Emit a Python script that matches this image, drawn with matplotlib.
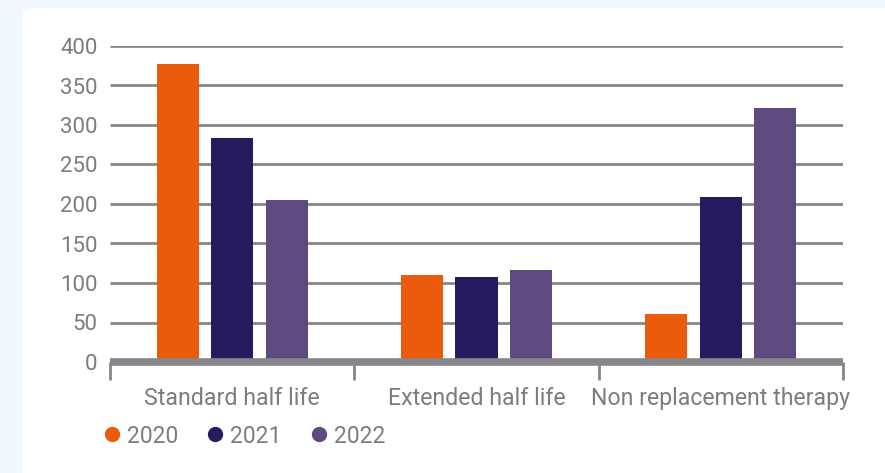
import numpy as np
import matplotlib.pyplot as plt
from matplotlib.patches import FancyBboxPatch
from matplotlib.lines import Line2D

plt.rcParams['font.family'] = ['Roboto', 'DejaVu Sans']

categories = ['Standard half life', 'Extended half life', 'Non replacement therapy']
years = ['2020', '2021', '2022']
values_2020 = [377, 110, 61]
values_2021 = [284, 107, 209]
values_2022 = [205, 117, 322]
colors = ['#EA5B0C', '#261B5E', '#5E4A7E']

grey = '#86868B'
text_grey = '#7C7C82'

fig = plt.figure(figsize=(8.85, 4.73), dpi=100)
fig.patch.set_facecolor('#F2F7FB')

# white card behind the chart
card = FancyBboxPatch((23 / 885, -0.05), 1.2, 1.05 - 8 / 473,
                      boxstyle='round,pad=0,rounding_size=0.012',
                      transform=fig.transFigure, facecolor='white',
                      edgecolor='none', zorder=-5)
fig.patches.append(card)

ax = fig.add_axes([110 / 885, 1 - 362 / 473, 733 / 885, 316 / 473])
ax.set_facecolor('none')

x = np.arange(len(categories))
width = 0.172
step = 0.223
for i, (vals, c) in enumerate(zip([values_2020, values_2021, values_2022], colors)):
    ax.bar(x + (i - 1) * step, vals, width, color=c, zorder=3, label=years[i])

ax.set_xlim(-0.5, 2.5)
ax.set_ylim(0, 400)
ax.set_yticks(range(0, 401, 50))
for yv in range(50, 401, 50):
    ax.axhline(yv, color=grey, linewidth=2, zorder=1, solid_capstyle='butt')
ax.axhline(0, color=grey, linewidth=5.5, zorder=4, clip_on=False, solid_capstyle='butt')

for s in ax.spines.values():
    s.set_visible(False)

# category labels centred, tick marks on group boundaries
ax.set_xticks(x)
ax.set_xticklabels(categories)
ax.tick_params(axis='x', length=0, pad=18, labelsize=16.7, labelcolor=text_grey)
ax.set_xticks([-0.5, 0.5, 1.5, 2.5], minor=True)
ax.tick_params(axis='x', which='minor', length=13, width=2, color=grey)
ax.tick_params(axis='y', length=0, pad=9, labelsize=16, labelcolor=text_grey)

handles = [Line2D([], [], marker='o', linestyle='none', markersize=11,
                  markerfacecolor=c, markeredgecolor='none') for c in colors]
fig.legend(handles, years, loc='center left', bbox_to_anchor=(80 / 885, 1 - 436 / 473),
           ncol=3, frameon=False, fontsize=16.5, labelcolor=text_grey,
           handletextpad=0.15, columnspacing=1.12, handlelength=1.0)

plt.savefig('out.png', dpi=100, facecolor=fig.get_facecolor())
